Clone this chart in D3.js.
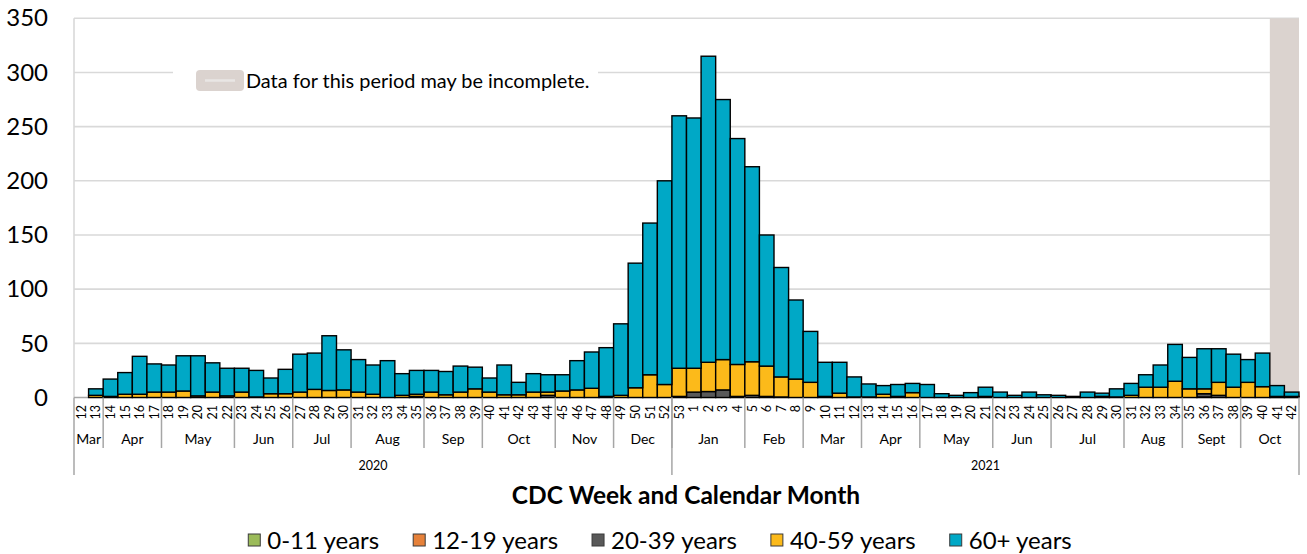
<!DOCTYPE html>
<html><head><meta charset="utf-8">
<script src="https://cdn.jsdelivr.net/npm/d3@7/dist/d3.min.js"></script>
<style>
html,body{margin:0;padding:0;background:#fff;}
svg{display:block;}
</style></head><body>
<svg id="chart" width="1307" height="554"></svg>
<script>
// ---------- DATA ----------
const weeks2020 = [12,13,14,15,16,17,18,19,20,21,22,23,24,25,26,27,28,29,30,31,32,33,34,35,36,37,38,39,40,41,42,43,44,45,46,47,48,49,50,51,52];
const weeks2021 = [53,1,2,3,4,5,6,7,8,9,10,11,12,13,14,15,16,17,18,19,20,21,22,23,24,25,26,27,28,29,30,31,32,33,34,35,36,37,38,39,40,41,42];
const months2020 = ["Mar","Apr","May","Jun","Jul","Aug","Sep","Oct","Nov","Dec"];
const monthWeeks2020 = [2,4,5,4,4,5,4,5,4,4];
const months2021 = ["Jan","Feb","Mar","Apr","May","Jun","Jul","Aug","Sept","Oct"];
const monthWeeks2021 = [5,4,4,4,5,4,5,4,4,4];
const years = ["2020","2021"];

const age0_11 = [
 0,0,0,0,0,0,0,0,0,0,0,0,0,0,0,0,0,0,0,0,0,0,0,0,0,0,0,0,0,0,0,0,0,0,0,0,0,0,0,0,0,
 0,0,0,0,0,0,0,0,0,0,0,0,0,0,0,0,0,0,0,0,0,0,0,0,0,0,0,0,0,0,0,0,0,0,0,0,0,0,0,0,0,0,0];
const age12_19 = [
 0,0,0,0,0,0,0,0,0,0,0,0,0,0,0,0,0,0,0,0,0,0,0,0,0,0,0,0,0,0,0,0,0,0,0,0,0,0,0,0,0,
 0,0,0,0,0,0,0,0,0,0,0,0,0,0,0,0,0,0,0,0,0,0,0,0,0,0,0,0,0,0,0,0,0,0,0,0,0.5,0,0,0,0,0,0];
const age20_39 = [
 0,0,0,0,0,0,0,0,0,0,0,0,0,0,0,0,0,0,0,0,0,0,0,1,0,0,0,0,0,0,0,0,2,0,0,0,0,0,0,0,0,
 1,5,5.5,7,1,2,1,0.5,0,0,0,0,0,0,0,0,0,0,0,0,0,0,0,0,0,0,0,0,0,0,0,0,0,0,0,0,3,2,0,0,0,0,0];
const age40_59 = [
 0,2,1,3,3,5,5,6,1.5,5,1.5,5,0.5,3.5,3.5,5,7.5,6.5,7,5,3,0,2,2,5,2.5,5,8,5,2.5,2.5,5,3,6,7,8.5,1,2,9,21,12,
 26,22,27,28,29.5,31,28,18.5,17,14,1,4,0.5,0.5,3,1,4.5,0,0,0,0,1,0,0,0,0,0,0,0,1,0.5,2,9.5,9.5,15,8,4.5,12,9.5,14,10,1,1];
const age60plus = [
 0,6,16,20,35,26,25,32.5,37,27,25.5,22,24.5,14.5,22.5,35,33.5,50.5,37,30,27,34,20,22,20,21.5,24,20,13,27.5,11.5,17,16,15,27,33.5,45,66,115,140,188,
 233,231,282.5,240,208.5,180,121,101,73,47,31.5,28.5,18.5,12,8,11,8.5,12,3.5,2,4.5,8.5,5,2,5,2.5,2,1,5,3,7.5,11,11.5,20.5,34,29,37,31,30.5,21,31,10,4];

const seriesNames = ["0-11 years","12-19 years","20-39 years","40-59 years","60+ years"];
const seriesColors = ["#9bbb59","#e6813a","#595959","#fcba1a","#00a8c6"];
const yTicks = [0,50,100,150,200,250,300,350];
const incompleteWeekCount = 2;
const incompleteLabel = "Data for this period may be incomplete.";
const xTitle = "CDC Week and Calendar Month";

// ---------- BUILD ----------
const weekLabels = weeks2020.concat(weeks2021);
const n = weekLabels.length;
const seriesArrays = [age0_11, age12_19, age20_39, age40_59, age60plus];
const rows = weekLabels.map((w,i)=>{
  const r = {idx:i, week:w};
  seriesNames.forEach((s,k)=>{ r[s] = seriesArrays[k][i]; });
  return r;
});
const stacked = d3.stack().keys(seriesNames)(rows);

const FONT = "Lato, 'Open Sans', 'DejaVu Sans', sans-serif";
const svg = d3.select("#chart").attr("font-family", FONT);
const X0 = 74, X1 = 1299, Y0 = 397.5, Y1 = 18.3;
const x = d3.scaleBand().domain(d3.range(n)).range([X0, X1]).padding(0);
const y = d3.scaleLinear().domain([0, 350]).range([Y0, Y1]);
const bw = x.bandwidth();

// gridlines
svg.append("g").selectAll("line").data(yTicks.filter(t=>t>0)).join("line")
  .attr("x1", X0).attr("x2", X1)
  .attr("y1", d=>y(d)).attr("y2", d=>y(d))
  .attr("stroke", "#d9d9d9").attr("stroke-width", 1.6);
svg.append("line").attr("x1", X0).attr("x2", X0).attr("y1", Y1).attr("y2", Y0)
  .attr("stroke", "#d9d9d9").attr("stroke-width", 1.6);

// y axis labels
const yAxis = d3.axisLeft(y).tickValues(yTicks).tickSize(0).tickPadding(26);
const gy = svg.append("g").attr("transform", `translate(${X0},0)`).call(yAxis);
gy.attr("font-family", null).attr("font-size", null);
gy.select(".domain").remove();
gy.selectAll("text").attr("font-size", 24).attr("fill", "#000").attr("font-family", FONT);

// incomplete period shading
svg.append("rect")
  .attr("x", x(n - incompleteWeekCount)).attr("y", Y1)
  .attr("width", X1 - x(n - incompleteWeekCount)).attr("height", Y0 - Y1 + 1)
  .attr("fill", "#dbd3cf");

// x axis line
svg.append("line").attr("x1", X0).attr("x2", X1).attr("y1", Y0).attr("y2", Y0)
  .attr("stroke", "#a6a6a6").attr("stroke-width", 1.5);

// bars
svg.append("g").selectAll("g").data(stacked).join("g")
  .attr("fill", (d,i)=>seriesColors[i])
  .selectAll("rect").data(d=>d.filter(p=>p[1]-p[0] > 0)).join("rect")
  .attr("x", d=>x(d.data.idx)).attr("width", bw)
  .attr("y", d=>y(d[1])).attr("height", d=>y(d[0]) - y(d[1]))
  .attr("stroke", "#000").attr("stroke-width", 1.4);

// week labels
svg.append("g").selectAll("text").data(weekLabels).join("text")
  .attr("transform", (d,i)=>`translate(${x(i) + bw/2},405) rotate(-90)`)
  .attr("text-anchor", "end").attr("dy", "0.36em")
  .attr("font-size", 12.5).attr("fill", "#000")
  .text(d=>d);

// month groups
function groups(names, counts, offset){
  let s = offset;
  return names.map((nm,i)=>{ const g = {name:nm, start:s, end:s+counts[i]}; s += counts[i]; return g; });
}
const monthGroups = groups(months2020, monthWeeks2020, 0)
  .concat(groups(months2021, monthWeeks2021, weeks2020.length));
const yearGroups = groups(years, [weeks2020.length, weeks2021.length], 0);
const xpos = i => i >= n ? X1 : x(i);

svg.append("g").selectAll("line").data(monthGroups.slice(1)).join("line")
  .attr("x1", d=>xpos(d.start)).attr("x2", d=>xpos(d.start))
  .attr("y1", Y0).attr("y2", 448)
  .attr("stroke", "#a6a6a6").attr("stroke-width", 1.5);
const yearBounds = [0].concat(yearGroups.map(g=>g.end));
svg.append("g").selectAll("line").data(yearBounds).join("line")
  .attr("x1", d=>xpos(d)).attr("x2", d=>xpos(d))
  .attr("y1", Y0).attr("y2", 475)
  .attr("stroke", "#a6a6a6").attr("stroke-width", 1.5);

svg.append("g").selectAll("text").data(monthGroups).join("text")
  .attr("x", d=>(xpos(d.start) + xpos(d.end))/2).attr("y", 444)
  .attr("text-anchor", "middle").attr("font-size", 14).attr("fill", "#000")
  .text(d=>d.name);
svg.append("g").selectAll("text").data(yearGroups).join("text")
  .attr("x", d=>(xpos(d.start) + xpos(d.end))/2).attr("y", 470)
  .attr("text-anchor", "middle").attr("font-size", 12.5).attr("fill", "#000")
  .text(d=>d.name);

// axis title
svg.append("text").attr("x", (X0+X1)/2 - 0.5).attr("y", 504)
  .attr("text-anchor", "middle").attr("font-weight", "bold").attr("font-size", 24.5)
  .attr("fill", "#000").text(xTitle);

// inline legend (incomplete data)
const lg = svg.append("g");
lg.append("rect").attr("x", 173).attr("y", 62).attr("width", 425).attr("height", 36).attr("fill", "#fff");
lg.append("rect").attr("x", 196).attr("y", 70).attr("width", 48).attr("height", 21).attr("rx", 4)
  .attr("fill", "#dbd3cf");
lg.append("line").attr("x1", 205).attr("x2", 235).attr("y1", 80.5).attr("y2", 80.5)
  .attr("stroke", "#e9e6e4").attr("stroke-width", 2.5);
lg.append("text").attr("x", 246).attr("y", 87.5).attr("font-size", 19.9).attr("fill", "#000")
  .text(incompleteLabel);

// bottom legend
const leg = svg.append("g");
const items = leg.selectAll("g").data(seriesNames).join("g");
items.append("rect").attr("width", 12).attr("height", 12).attr("y", 534)
  .attr("fill", (d,i)=>seriesColors[i]).attr("stroke", "#3a3a3a").attr("stroke-width", 1);
const txts = items.append("text").attr("y", 548.5).attr("font-size", 24).attr("fill", "#000").text(d=>d);
const widths = [];
txts.each(function(){ widths.push(this.getComputedTextLength()); });
const sw = 12, gapT = 7, gapI = 34;
const total = d3.sum(widths) + seriesNames.length*(sw+gapT) + gapI*(seriesNames.length-1);
let cx = 660 - total/2;
items.each(function(d,i){
  const g = d3.select(this);
  g.select("rect").attr("x", cx);
  g.select("text").attr("x", cx + sw + gapT);
  cx += sw + gapT + widths[i] + gapI;
});
</script>
</body></html>
